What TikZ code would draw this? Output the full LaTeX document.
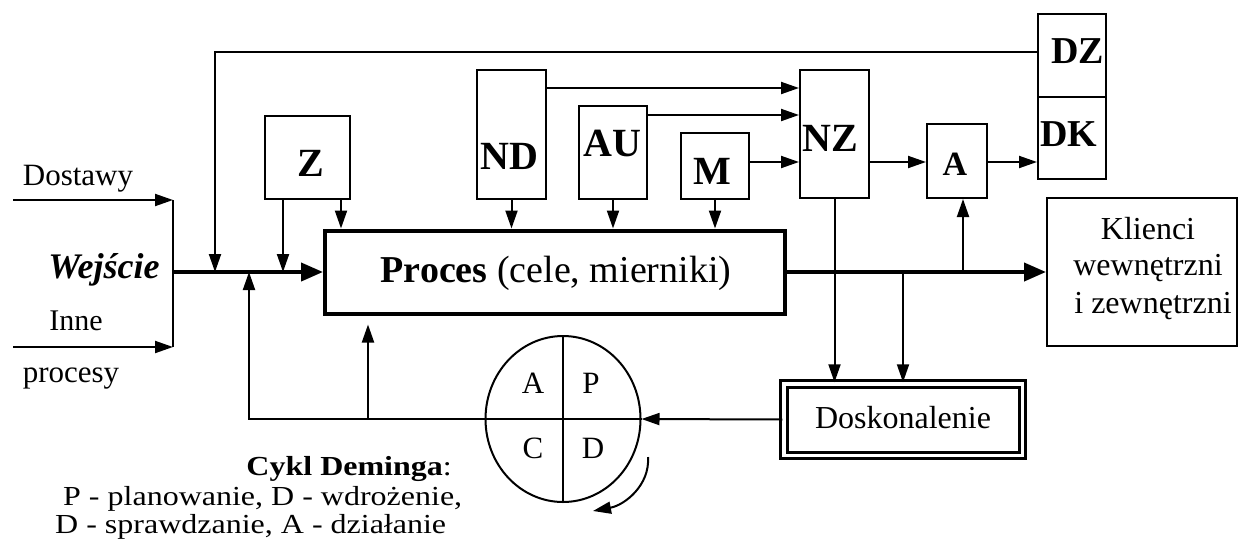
\documentclass[tikz,border=0pt]{standalone}
\usepackage{fontspec}
\setmainfont{Liberation Serif}
\usetikzlibrary{arrows.meta,shapes.geometric,calc}
\newcommand\fsz[2]{\fontsize{#1}{#2}\selectfont}
\newcommand\squish[1]{\scalebox{1}[0.86]{#1}}
\begin{document}
\begin{tikzpicture}[x=1pt,y=-1pt,
  box/.style={draw, line width=2pt, inner sep=0pt},
  lbl/.style={inner sep=0pt, font=\bfseries\fsz{40}{48}},
  arr/.style={line width=2pt, -{Triangle[length=18pt,width=12pt]}},
  tarr/.style={line width=4pt, -{Triangle[length=22pt,width=18pt]}},
  ln/.style={line width=2pt},
  txt/.style={inner sep=0pt, anchor=base, font=\fsz{31}{37}}]
\useasboundingbox (0,0) rectangle (1239,544);

% boxes
\node[box, minimum width=85pt, minimum height=83pt] (z) at (307.5,157.5) {};
\node[box, minimum width=69pt, minimum height=129pt] (nd) at (511.5,134.5) {};
\node[box, minimum width=68pt, minimum height=93pt] (au) at (613,152.5) {};
\node[box, minimum width=68pt, minimum height=66pt] (m) at (715,166) {};
\node[box, minimum width=69pt, minimum height=128pt] (nz) at (834.5,134) {};
\node[box, minimum width=60pt, minimum height=74pt] (a) at (957,161) {};
\node[box, minimum width=68pt, minimum height=83pt] (dz) at (1072,55.5) {};
\node[box, minimum width=68pt, minimum height=82pt] (dk) at (1072,138) {};
\node[draw, line width=4pt, minimum width=460pt, minimum height=83pt, inner sep=0pt] (proc) at (555,272) {};
\node[box, minimum width=190pt, minimum height=148pt] (kl) at (1142,272) {};
\node[draw, double, line width=3pt, double distance=3.5pt, minimum width=238.5pt, minimum height=71.5pt, inner sep=0pt] (dosk) at (903,419.5) {};
\node[draw, ellipse, line width=2pt, minimum width=155pt, minimum height=166pt, inner sep=0pt] (pdca) at (563,419) {};

% left inputs
\coordinate (lt) at (173,200);
\coordinate (lb) at (173,347);
\coordinate (dl) at (13,200);
\coordinate (il) at (13,347);
\coordinate (mainL) at (173,272);
\draw[arr] (dl) -- (lt);
\draw[arr] (il) -- (lb);
\draw[ln] (lt) -- (lb);
\draw[tarr] (mainL) -- (proc.west);

% top feedback from DZ
\coordinate (tl) at (215,52);
\draw[arr] (dz.west |- tl) -- (tl) -- (tl |- mainL);

% Z arrows
\coordinate (z1) at (283,0);
\coordinate (z2) at (341,0);
\draw[arr] (z.south -| z1) -- (z1 |- mainL);
\draw[arr] (z.south -| z2) -- (z2 |- proc.north);

% down arrows into process
\draw[arr] (nd.south) -- (nd.south |- proc.north);
\draw[arr] (au.south) -- (au.south |- proc.north);
\draw[arr] (m.south) -- (m.south |- proc.north);

% arrows into NZ, A, DK
\coordinate (r1) at (0,88);
\coordinate (r2) at (0,115);
\coordinate (r3) at (0,162);
\draw[arr] (nd.east |- r1) -- (nz.west |- r1);
\draw[arr] (au.east |- r2) -- (nz.west |- r2);
\draw[arr] (m.east |- r3) -- (nz.west |- r3);
\draw[arr] (nz.east |- r3) -- (a.west |- r3);
\draw[arr] (a.east |- r3) -- (dk.west |- r3);

% output
\draw[tarr] (proc.east) -- (kl.west);
\coordinate (ja) at (963,272);
\draw[arr] (ja) -- (ja |- a.south);
\draw[arr] (nz.south) -- (nz.south |- dosk.north);
\coordinate (jd) at (903,272);
\draw[arr] (jd) -- (jd |- dosk.north);

% improvement loop
\draw[arr] (dosk.west) -- (pdca.east);
\coordinate (fb1) at (249,419);
\coordinate (fb2) at (368,419);
\draw[arr] (pdca.west) -- (fb1) -- (fb1 |- mainL);
\draw[arr, shorten >=9pt] (fb2) -- (fb2 |- proc.south);
\draw[ln] (pdca.north) -- (pdca.south);
\draw[ln] (pdca.west) -- (pdca.east);
\coordinate (ca) at (648,457);
\coordinate (cb) at (593,511);
\draw[arr] (ca) .. controls (650,485) and (625,505) .. (cb);

% labels
\node[lbl] (zt) at (311,163) {Z};
\node[lbl, anchor=west] (ndt) at (480,156) {ND};
\node[lbl, anchor=west] (aut) at (583,143) {AU};
\node[lbl] (mt) at (712,171) {M};
\node[lbl, anchor=west] (nzt) at (802,138) {NZ};
\node[lbl, font=\bfseries\fsz{34}{40}] (at) at (955,164) {A};
\node[lbl, font=\bfseries\fsz{38}{44}, anchor=east] (dzt) at (1104,51) {DZ};
\node[lbl, font=\bfseries\fsz{38}{44}, anchor=west] (dkt) at (1040,134) {DK};

\node[txt, font=\fsz{38}{44}] (proct) at (556,282) {\textbf{Proces} (cele, mierniki)};
\node[txt, font=\fsz{32}{37}] (k1) at (1148,239) {Klienci};
\node[txt, font=\fsz{32}{37}] (k2) at (1148,275) {wewnętrzni};
\node[txt, font=\fsz{32}{37}] (k3) at (1153,313) {i zewnętrzni};
\node[txt, font=\fsz{32}{37}] (dt) at (903,428) {Doskonalenie};
\node[txt] (dost) at (78,185) {Dostawy};
\node[txt, font=\bfseries\itshape\fsz{36}{42}] (wej) at (104,278) {Wejście};
\node[txt, font=\fsz{30}{36}] (inne) at (76,330) {Inne};
\node[txt] (procesy) at (71,382) {procesy};

\node[txt, font=\fsz{31}{36}] (pa) at (533,393) {A};
\node[txt, font=\fsz{31}{36}] (pp) at (591,393) {P};
\node[txt, font=\fsz{31}{36}] (pc) at (533,458) {C};
\node[txt, font=\fsz{31}{36}] (pd) at (593,458) {D};

\node[txt, anchor=base east, font=\fsz{32}{37}] (cd1) at (452,475) {\squish{\textbf{Cykl Deminga}:}};
\node[txt, anchor=base west, font=\fsz{32}{37}] (cd2) at (63,505) {\squish{P - planowanie, D - wdrożenie,}};
\node[txt, anchor=base west, font=\fsz{32}{37}] (cd3) at (55,533) {\squish{D - sprawdzanie, A - działanie}};
\end{tikzpicture}
\end{document}
